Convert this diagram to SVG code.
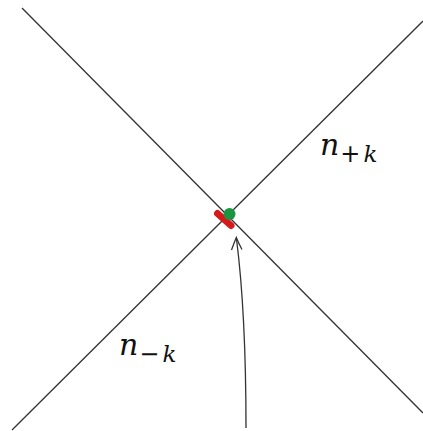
<svg xmlns="http://www.w3.org/2000/svg" width="423" height="431" viewBox="0 0 423 431">
<style>
.ln{stroke:#333;stroke-width:1.3;fill:none}
.lbl{font-family:"DejaVu Serif","Liberation Serif",serif;font-style:italic;font-size:30px;fill:#111}
.sub{font-size:23px}
.op{font-family:"DejaVu Sans",sans-serif;font-style:normal;font-size:24px}
</style>
<rect width="423" height="431" fill="#fff"/>
<g id="connectors">
<path id="lineA" class="ln" d="M22,8 L423,413"/>
<path id="lineB" class="ln" d="M423,21 L12,430"/>
<path id="arrow" class="ln" d="M246,428 C246,340 242,282 236.5,239"/>
<path id="arrowhead" class="ln" d="M231.5,250 Q234,243 236.3,237.5 Q238.5,243 242,249.5"/>
</g>
<g id="point">
<line x1="217.5" y1="213.5" x2="231" y2="225.5" stroke="#d7191c" stroke-width="7" stroke-linecap="round"/>
<circle cx="229.5" cy="214" r="6" fill="#1a9641"/>
</g>
<g id="label-plus">
<text class="lbl" x="320" y="155">n<tspan class="op" dy="7" dx="1">+</tspan><tspan class="sub" dx="3">k</tspan></text>
</g>
<g id="label-minus">
<text class="lbl" x="119" y="355">n<tspan class="op" dy="7" dx="1">−</tspan><tspan class="sub" dx="3">k</tspan></text>
</g>
</svg>
